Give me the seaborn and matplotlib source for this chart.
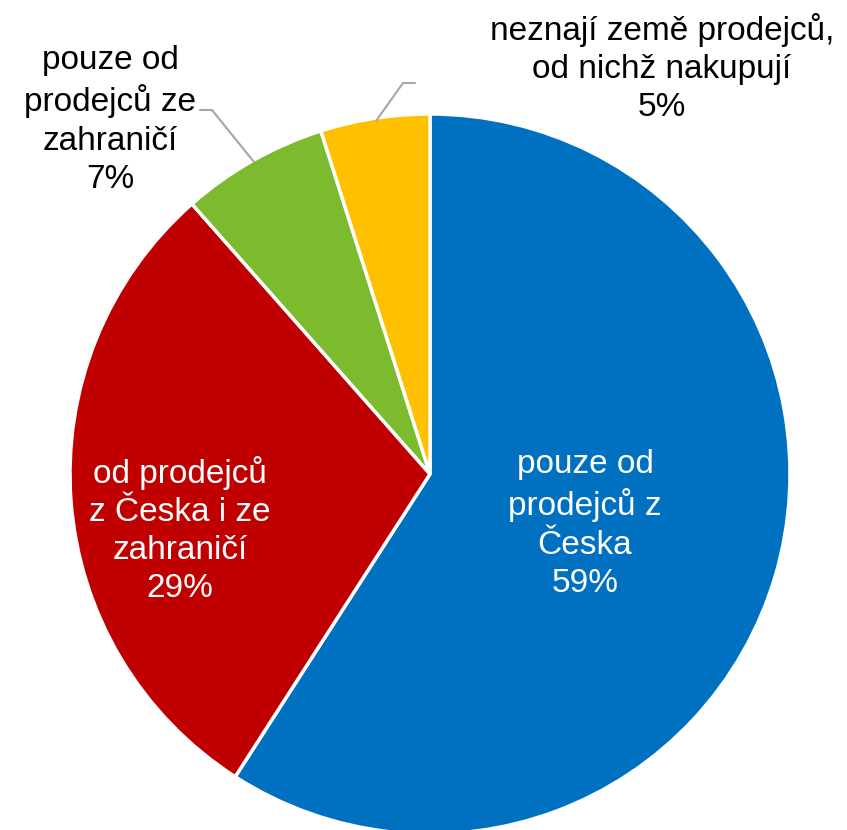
import numpy as np
import seaborn as sns
from matplotlib import pyplot as plt

# chart values (shares, labels show rounded values)
categories = ['pouze od\nprodejců z\nČeska', 'od prodejců\nz Česka i ze\nzahraničí',
              'pouze od\nprodejců ze\nzahraničí', 'neznají země prodejců,\nod nichž nakupují']
shares = [59.1, 29.4, 6.6, 4.9]
colors = ['#0070C0', '#C00000', '#7CBA2E', '#FFC000']
text_colors = ['white', 'white', 'black', 'black']

sns.set_theme(style='white')
plt.rcParams['font.family'] = ['Liberation Sans', 'DejaVu Sans']

W, H, CX, CY, R = 847, 830, 430, 474, 360


def to_data(px, py):
    return (px - CX) / R, (CY - py) / R


fig = plt.figure(figsize=(W / 100, H / 100), dpi=100)
ax = fig.add_axes([0, 0, 1, 1])
wedges, _ = ax.pie(shares, colors=colors, startangle=90, counterclock=False, radius=1,
                   wedgeprops=dict(edgecolor='white', linewidth=2.5))
ax.set_aspect('auto')
ax.set_xlim(-CX / R, (W - CX) / R)
ax.set_ylim(-(H - CY) / R, CY / R)
ax.axis('off')

label_pos = [(585, 524), (180, 530), (110, 120), (662, 68)]
for cat, val, (px, py), tc in zip(categories, shares, label_pos, text_colors):
    x, y = to_data(px, py)
    ax.text(x, y, f'{cat}\n{val:.0f}%', ha='center', va='center', fontsize=24,
            color=tc, linespacing=1.3)

# leader lines for the small slices
leaders = [[(200, 110), (212, 110), (254, 162)], [(415, 83), (403, 83), (376, 121)]]
for pts in leaders:
    xs, ys = zip(*[to_data(px, py) for px, py in pts])
    ax.plot(xs, ys, color='#A6A6A6', linewidth=1.5)

fig.savefig('out.png', dpi=100)
